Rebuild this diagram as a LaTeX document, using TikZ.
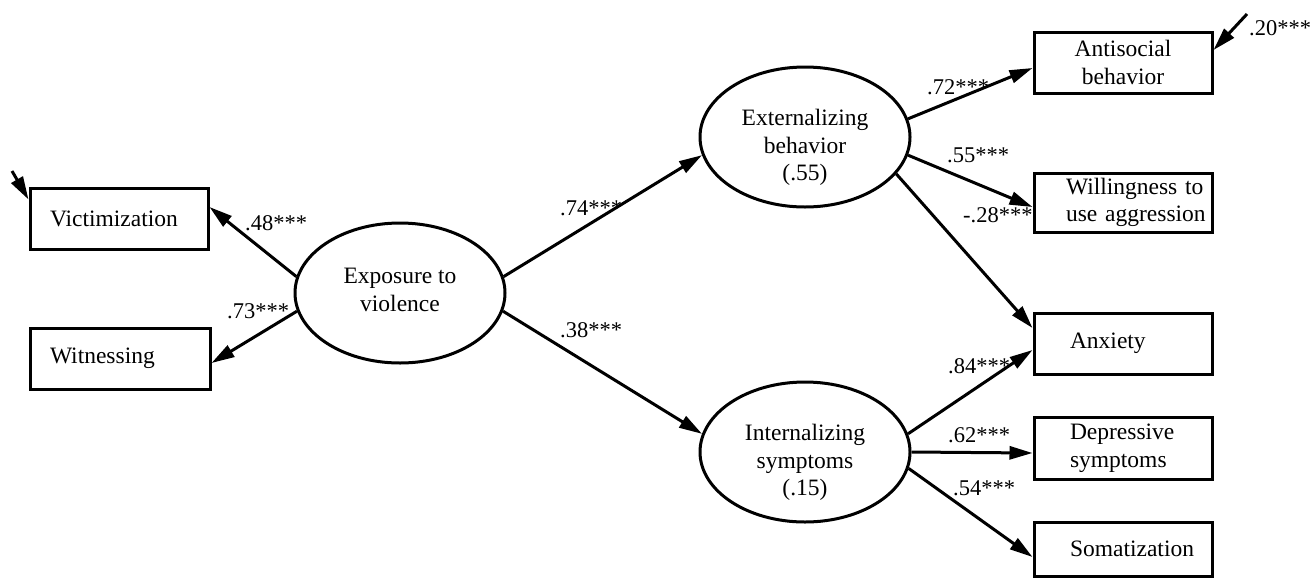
\documentclass[tikz,border=0pt]{standalone}
\usepackage{fontspec}
\setmainfont{Liberation Serif}
\usetikzlibrary{shapes.geometric,arrows.meta}
\begin{document}
\begin{tikzpicture}[x=1pt,y=-1pt,
  every node/.style={font=\fontsize{23.5}{27.5}\selectfont},
  lat/.style={draw, ellipse, line width=3pt, minimum width=210pt, minimum height=140pt, inner sep=0pt},
  lattext/.style={align=center, inner sep=0pt},
  obs/.style={draw, rectangle, line width=3pt, minimum height=61pt, inner ysep=0pt, align=left},
  conn/.style={line width=3pt, -{Triangle[length=23pt,width=13pt]}},
  coef/.style={anchor=base west, inner sep=0pt, font=\fontsize{22.5}{26}\selectfont}]
\fill[white] (0,0) rectangle (1311,579);
\useasboundingbox (0,0) rectangle (1311,579);

% latent variables
\node[lat] (exp) at (400,293) {};
\node[lattext] (expt) at (400,290) {Exposure to\\violence};
\node[lat] (ext) at (805,137) {};
\node[lattext] (extt) at (805,147.5) {Externalizing\\behavior\\(.55)};
\node[lat] (int) at (805,452) {};
\node[lattext] (intt) at (805,462.5) {Internalizing\\symptoms\\(.15)};

% observed variables
\node[obs, text width=138pt, inner xsep=20pt] (vic) at (119,218.5) {Victimization};
\node[obs, text width=140pt, inner xsep=20pt] (wit) at (120,358.5) {Witnessing};
\node[obs, minimum width=178pt, align=center] (anti) at (1123,62.5) {Antisocial\\behavior};
\node[obs, text width=114pt, inner xsep=32pt, minimum height=59pt] (will) at (1123,202.5) {\mbox{Willingness to}\\\mbox{use aggression}};
\node[obs, text width=106pt, inner xsep=36pt] (anx) at (1123,343.5) {Anxiety};
\node[obs, text width=106pt, inner xsep=36pt, minimum height=62pt] (dep) at (1123,448) {\mbox{Depressive}\\\mbox{symptoms}};
\node[obs, text width=106pt, inner xsep=36pt, minimum height=54pt] (som) at (1123,549) {\mbox{Somatization}};

% error terms
\coordinate (e1) at (12,171);
\coordinate (e2) at (1247,14);
\draw[conn] (e1) -- ([yshift=-13pt]vic.north west);
\draw[conn] (e2) -- ([yshift=12.5pt]anti.east);

% paths
\draw[conn] (exp.171) -- ([yshift=11.5pt]vic.east);
\draw[conn] (exp.190) -- ([yshift=-4.5pt]wit.east);
\draw[conn] (exp.9) -- (ext.190);
\draw[conn] (exp.350) -- (int.170);
\draw[conn] (ext.10) -- ([yshift=-5.5pt]anti.west);
\draw[conn] (ext.350) -- ([yshift=-4.5pt]will.west);
\draw[conn] (ext.338) -- ([yshift=15.5pt]anx.west);
\draw[conn] (int.10) -- ([yshift=-6.5pt]anx.west);
\draw[conn] (int.east) -- ([yshift=-5pt]dep.west);
\draw[conn] (int.351) -- ([yshift=-8pt]som.west);

% coefficients
\node[coef] (c1) at (245,230) {.48***};
\node[coef] (c2) at (227,318) {.73***};
\node[coef] (c3) at (560,215) {.74***};
\node[coef] (c4) at (560,337) {.38***};
\node[coef] (c5) at (927,94) {.72***};
\node[coef] (c6) at (947,162) {.55***};
\node[coef] (c7) at (963,222) {-.28***};
\node[coef] (c8) at (948,373) {.84***};
\node[coef] (c9) at (948,442) {.62***};
\node[coef] (c10) at (953,495) {.54***};
\node[coef] (c11) at (1249,35) {.20***};
\end{tikzpicture}
\end{document}
